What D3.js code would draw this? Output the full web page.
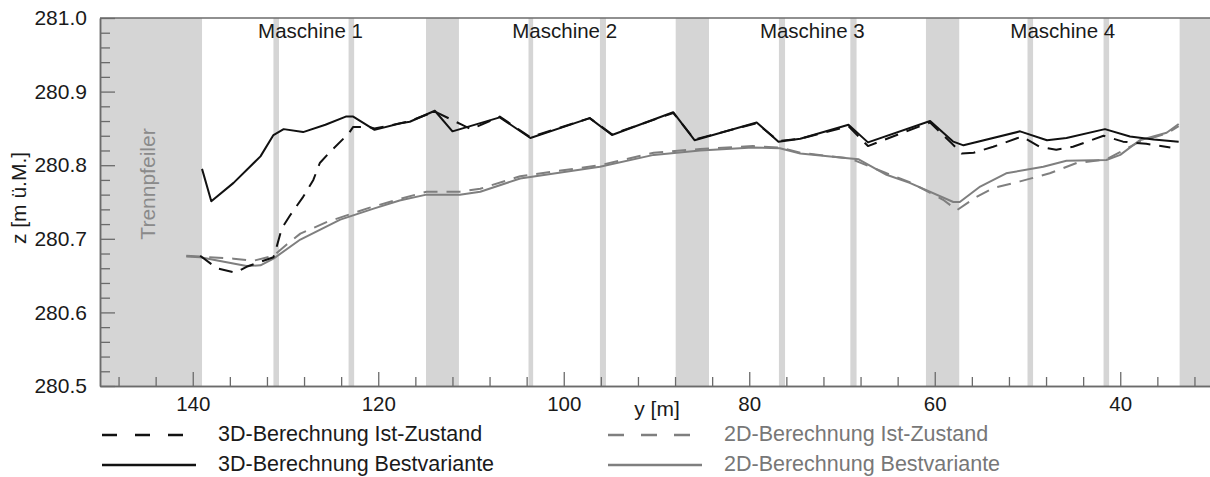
<!DOCTYPE html>
<html>
<head>
<meta charset="utf-8">
<script src="https://cdn.jsdelivr.net/npm/d3@7"></script>
<style>
  html, body { margin: 0; padding: 0; background: #fff; }
  svg { display: block; font-family: "Liberation Sans", Arial, sans-serif; }
</style>
</head>
<body>
<div id="chart"></div>
<script>
// Water level along the intake, 3D vs 2D computation, current state vs best variant.

// --- data -----------------------------------------------------------------

// Pier regions (y [m], from/to) shown as grey bands.
const pierBands = [
  [150, 139], [131.3, 130.7], [123.2, 122.6], [114.85, 111.3],
  [103.8, 103.3], [96.1, 95.45], [87.93, 84.34], [76.8, 76.14],
  [69.1, 68.43], [60.95, 57.36], [50.0, 49.4], [41.8, 41.2], [33.6, 30]
];

const machineNames = ["Maschine 1", "Maschine 2", "Maschine 3", "Maschine 4"];
const machineCenters = [127.3, 99.9, 73.2, 46.2];

const xTicksMajor = [140, 120, 100, 80, 60, 40];
const yTicksMajor = [280.5, 280.6, 280.7, 280.8, 280.9, 281.0];

// [y [m], z [m ü.M.]]
const ist3D = [
  [139.2, 280.677], [137.4, 280.660], [135.4, 280.654], [134.2, 280.662],
  [131.3, 280.675], [131.0, 280.687], [130.4, 280.714], [129.5, 280.732],
  [128.1, 280.757], [127.0, 280.780], [126.3, 280.803], [125.2, 280.818],
  [123.2, 280.843], [122.7, 280.852], [121.0, 280.852], [120.4, 280.850],
  [117.6, 280.857], [116.6, 280.860], [113.9, 280.873], [111.0, 280.855],
  [110.0, 280.849], [106.9, 280.866], [103.6, 280.838], [97.2, 280.864],
  [94.8, 280.842], [88.2, 280.871], [85.9, 280.835], [79.2, 280.857],
  [76.85, 280.833], [74.5, 280.836], [69.3, 280.853], [67.2, 280.826],
  [63.7, 280.843], [60.5, 280.858], [58.2, 280.830], [57.1, 280.816],
  [55.8, 280.817], [53.7, 280.825], [50.6, 280.839], [48.7, 280.825],
  [46.9, 280.821], [45.1, 280.825], [41.8, 280.840], [39.7, 280.832],
  [37.2, 280.829], [34.6, 280.824]
];

const best3D = [
  [139.0, 280.795], [138.0, 280.751], [135.6, 280.776], [132.7, 280.812],
  [131.3, 280.841], [130.2, 280.849], [128.1, 280.845], [125.7, 280.855],
  [123.5, 280.866], [122.7, 280.866], [120.4, 280.848], [117.6, 280.857],
  [116.6, 280.859], [113.9, 280.874], [112.0, 280.846], [106.9, 280.865],
  [103.6, 280.837], [97.2, 280.864], [94.8, 280.841], [88.2, 280.872],
  [85.9, 280.834], [79.2, 280.858], [76.85, 280.832], [74.5, 280.836],
  [69.3, 280.855], [67.2, 280.831], [60.5, 280.860], [58.0, 280.832],
  [56.9, 280.827], [50.8, 280.846], [47.9, 280.834], [45.8, 280.837],
  [41.65, 280.849], [38.95, 280.839], [36.4, 280.835], [33.7, 280.832]
];

const ist2D = [
  [140.7, 280.677], [135.6, 280.673], [133.5, 280.670], [131.3, 280.677],
  [129.9, 280.692], [128.4, 280.707], [125.5, 280.723], [121.0, 280.742],
  [117.7, 280.754], [114.8, 280.764], [111.2, 280.764], [109.0, 280.768],
  [104.7, 280.785], [96.1, 280.800], [90.3, 280.817], [85.3, 280.822],
  [79.6, 280.826], [76.7, 280.824], [74.5, 280.817], [69.1, 280.809],
  [65.2, 280.789], [62.7, 280.777], [59.1, 280.753], [57.6, 280.739],
  [55.5, 280.757], [53.7, 280.769], [50.8, 280.778], [47.6, 280.789],
  [44.7, 280.803], [41.5, 280.808], [37.9, 280.832], [35.0, 280.843],
  [33.7, 280.853]
];

const best2D = [
  [140.7, 280.676], [139.2, 280.675], [134.2, 280.663], [132.7, 280.664],
  [131.3, 280.673], [128.4, 280.699], [124.1, 280.726], [120.5, 280.741],
  [117.7, 280.752], [114.8, 280.760], [111.2, 280.760], [109.0, 280.764],
  [104.7, 280.782], [96.1, 280.798], [90.3, 280.814], [85.3, 280.820],
  [79.6, 280.824], [76.7, 280.823], [74.5, 280.816], [69.1, 280.809],
  [68.2, 280.808], [65.2, 280.787], [62.7, 280.776], [58.0, 280.750],
  [57.3, 280.750], [55.1, 280.771], [52.3, 280.789], [48.3, 280.798],
  [45.8, 280.806], [41.5, 280.807], [40.0, 280.814], [37.9, 280.834],
  [35.0, 280.844], [33.7, 280.856]
];

const seriesNames = [
  "3D-Berechnung Ist-Zustand",
  "3D-Berechnung Bestvariante",
  "2D-Berechnung Ist-Zustand",
  "2D-Berechnung Bestvariante"
];

// --- appearance -----------------------------------------------------------

const W = 1210, H = 477;
const PLOT = { left: 100, right: 1213, top: 18, bottom: 386 };
const AXIS_COLOR = "#6b6b6b";
const BAND_COLOR = "#d5d5d5";
const GREY = "#7f7f7f";

const STYLE = [
  { data: ist3D,  color: "#111", dash: "14,9", legendDash: "15,18", legendLen: 82, text: "#1a1a1a", col: 0, row: 0 },
  { data: best3D, color: "#111", dash: null,   legendDash: null,    legendLen: 94, text: "#1a1a1a", col: 0, row: 1 },
  { data: ist2D,  color: GREY,   dash: "14,9", legendDash: "16,17", legendLen: 82, text: "#777",    col: 1, row: 0 },
  { data: best2D, color: GREY,   dash: null,   legendDash: null,    legendLen: 94, text: "#777",    col: 1, row: 1 },
];

const x = d3.scaleLinear().domain([150, 30]).range([PLOT.left, PLOT.right]);
const y = d3.scaleLinear().domain([280.5, 281.0]).range([PLOT.bottom, PLOT.top]);

const svg = d3.select("#chart").append("svg")
  .attr("width", W).attr("height", H)
  .attr("viewBox", `0 0 ${W} ${H}`);

// Pier bands
svg.append("g").attr("class", "bands")
  .selectAll("rect").data(pierBands).enter().append("rect")
  .attr("x", (d) => x(d[0]))
  .attr("width", (d) => x(d[1]) - x(d[0]))
  .attr("y", PLOT.top)
  .attr("height", PLOT.bottom - PLOT.top)
  .attr("fill", BAND_COLOR);

// Trennpfeiler label
svg.append("text")
  .attr("transform", `translate(155, ${(PLOT.top + PLOT.bottom) / 2}) rotate(-90)`)
  .attr("x", 18).attr("y", 0)
  .attr("text-anchor", "middle")
  .attr("font-size", "21px")
  .attr("fill", "#8a8a8a")
  .text("Trennpfeiler");

// Machine labels
svg.append("g").selectAll("text").data(machineNames).enter().append("text")
  .attr("x", (d, i) => x(machineCenters[i]))
  .attr("y", 38)
  .attr("text-anchor", "middle")
  .attr("font-size", "20.5px")
  .attr("fill", "#1a1a1a")
  .text((d) => d);

// Top frame line
svg.append("line")
  .attr("x1", PLOT.left).attr("x2", W)
  .attr("y1", PLOT.top).attr("y2", PLOT.top)
  .attr("stroke", AXIS_COLOR).attr("stroke-width", 1.5);

// Axes: minor ticks first, then the major ones with labels.
const yMinor = d3.range(280.52, 281.0, 0.02).filter((v) => Math.abs(v * 10 - Math.round(v * 10)) > 1e-6);
const xMinor = d3.range(148, 30, -4).filter((v) => v % 20 !== 0);

function styleAxis(g) {
  g.selectAll("path").attr("stroke", AXIS_COLOR).attr("stroke-width", 1.5);
  g.selectAll("line").attr("stroke", AXIS_COLOR).attr("stroke-width", 1.3);
  g.selectAll("text").attr("fill", "#1a1a1a").attr("font-family", null);
}

svg.append("g").attr("transform", `translate(${PLOT.left},0)`)
  .call(d3.axisLeft(y).tickValues(yMinor).tickSizeInner(-10).tickSizeOuter(0).tickFormat(""))
  .call(styleAxis);
svg.append("g").attr("transform", `translate(${PLOT.left},0)`)
  .call(d3.axisLeft(y).tickValues(yTicksMajor).tickSizeInner(-15).tickSizeOuter(0)
    .tickPadding(13).tickFormat(d3.format(".1f")))
  .attr("font-size", 21)
  .call(styleAxis);

svg.append("g").attr("transform", `translate(0,${PLOT.bottom})`)
  .call(d3.axisBottom(x).tickValues(xMinor).tickSizeInner(-9).tickSizeOuter(0).tickFormat(""))
  .call(styleAxis);
svg.append("g").attr("transform", `translate(0,${PLOT.bottom})`)
  .call(d3.axisBottom(x).tickValues(xTicksMajor).tickSizeInner(-14).tickSizeOuter(0)
    .tickPadding(10).tickFormat(d3.format("d")))
  .attr("font-size", 20.5)
  .call(styleAxis);

// Axis titles
svg.append("text")
  .attr("x", 657).attr("y", 416)
  .attr("text-anchor", "middle")
  .attr("font-size", "21px")
  .attr("fill", "#1a1a1a")
  .text("y [m]");

svg.append("text")
  .attr("transform", `translate(26, 198) rotate(-90)`)
  .attr("text-anchor", "middle")
  .attr("font-size", "21px")
  .attr("fill", "#1a1a1a")
  .text("z [m ü.M.]");

// Lines — 2D first so the 3D lines sit on top.
const lineGen = d3.line().x((d) => x(d[0])).y((d) => y(d[1]));
const drawOrder = [3, 2, 1, 0];

svg.append("g").attr("class", "lines")
  .selectAll("path").data(drawOrder.map((i) => STYLE[i])).enter().append("path")
  .attr("d", (d) => lineGen(d.data))
  .attr("fill", "none")
  .attr("stroke", (d) => d.color)
  .attr("stroke-width", 2)
  .attr("stroke-linejoin", "round")
  .attr("stroke-dasharray", (d) => d.dash);

// Legend
const LEG_X = [102, 608];
const LEG_Y = [435, 465];
const LEG_TEXT_DX = 116;

const leg = svg.append("g").attr("class", "legend")
  .selectAll("g").data(STYLE).enter().append("g")
  .attr("transform", (d) => `translate(${LEG_X[d.col]}, ${LEG_Y[d.row]})`);

leg.append("line")
  .attr("x1", 0).attr("x2", (d) => d.legendLen)
  .attr("y1", 0).attr("y2", 0)
  .attr("stroke", (d) => d.color)
  .attr("stroke-width", 2.5)
  .attr("stroke-dasharray", (d) => d.legendDash);

leg.append("text")
  .attr("x", LEG_TEXT_DX).attr("y", 6)
  .attr("font-size", "21.5px")
  .attr("fill", (d) => d.text)
  .text((d, i) => seriesNames[i]);
</script>
</body>
</html>
